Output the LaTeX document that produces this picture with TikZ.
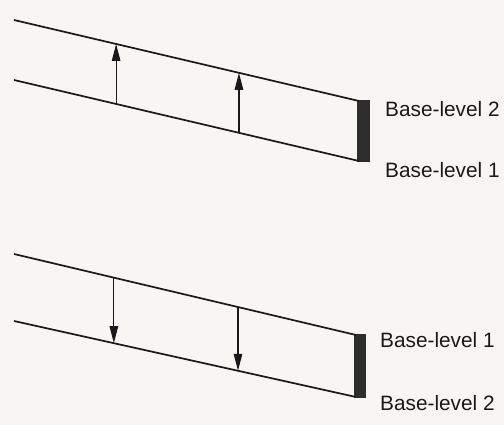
\documentclass[tikz,border=0pt]{standalone}
\usepackage{fontspec}
\setmainfont{Liberation Sans}
\usetikzlibrary{arrows.meta,calc}
\definecolor{paper}{RGB}{247,246,243}
\definecolor{ink}{RGB}{25,25,25}
\definecolor{barink}{RGB}{45,45,45}
\begin{document}
\begin{tikzpicture}[x=1pt,y=-1pt,
  surface/.style={draw=ink,line width=1.7pt},
  levelarrow/.style={draw=ink,line width=1.2pt,-{Triangle[length=17pt,width=8.5pt]}},
  stepbar/.style={fill=barink},
  lbl/.style={anchor=west,inner sep=0pt,text=ink,font=\fontsize{20.8}{24}\selectfont}]
\fill[paper] (0,0) rectangle (504,425);
\useasboundingbox (0,0) rectangle (504,425);
% ---- top panel
\coordinate (tU1) at (14,20);  \coordinate (tU2) at (359,101);
\coordinate (tL1) at (14,80);  \coordinate (tL2) at (359,161);
\fill[stepbar] (357,100) rectangle (370,162);
\draw[surface] (tU1) -- (tU2);
\draw[surface] (tL1) -- (tL2);
\coordinate (ta1) at ($(tL1)!0.296!(tL2)$);
\coordinate (tb1) at ($(tU1)!0.296!(tU2)$);
\coordinate (ta2) at ($(tL1)!0.652!(tL2)$);
\coordinate (tb2) at ($(tU1)!0.652!(tU2)$);
\draw[levelarrow] (ta1) -- (tb1);
\draw[levelarrow] (ta2) -- (tb2);
\node[lbl] (t2) at (385,109) {Base-level 2};
\node[lbl] (t1) at (385,170) {Base-level 1};
% ---- bottom panel
\coordinate (bU1) at (14,254); \coordinate (bU2) at (356,335);
\coordinate (bL1) at (14,321); \coordinate (bL2) at (356,397);
\fill[stepbar] (354,334) rectangle (366,398);
\draw[surface] (bU1) -- (bU2);
\draw[surface] (bL1) -- (bL2);
\coordinate (ba1) at ($(bU1)!0.292!(bU2)$);
\coordinate (bb1) at ($(bL1)!0.292!(bL2)$);
\coordinate (ba2) at ($(bU1)!0.655!(bU2)$);
\coordinate (bb2) at ($(bL1)!0.655!(bL2)$);
\draw[levelarrow] (ba1) -- (bb1);
\draw[levelarrow] (ba2) -- (bb2);
\node[lbl] (b1) at (380,340) {Base-level 1};
\node[lbl] (b2) at (380,403) {Base-level 2};
\end{tikzpicture}
\end{document}
